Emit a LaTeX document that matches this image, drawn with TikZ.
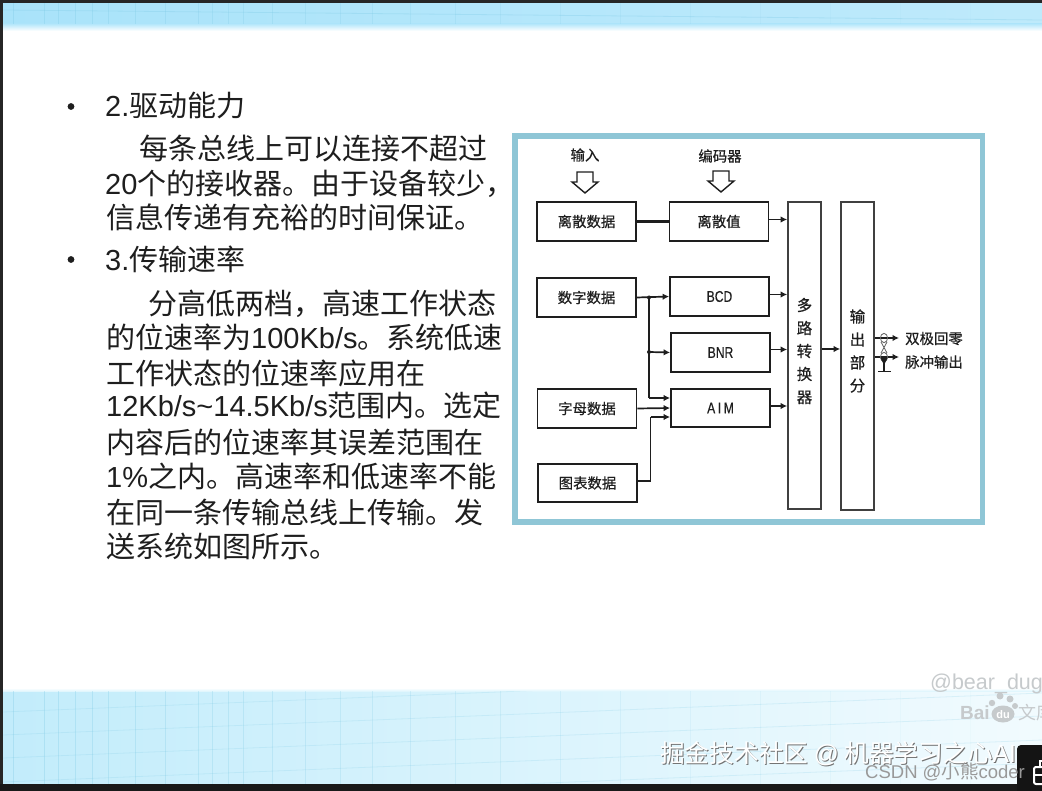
\documentclass[tikz,border=0pt]{standalone}
\usepackage{xcolor}
\usepackage{fontspec}
\usepackage{tikz}
\usetikzlibrary{arrows.meta}
\setmainfont{Liberation Sans}
\newfontfamily\cjk{Noto Sans CJK SC}
\newfontfamily\cjkheavy[FakeBold=0.5]{Noto Sans CJK SC}
\newfontfamily\narrowfont[FakeStretch=0.78,FakeBold=0.4]{Liberation Sans}
\definecolor{framecol}{HTML}{8FC6D6}
\definecolor{inkcol}{HTML}{1E1E1E}
\definecolor{bandtop}{HTML}{A9E3FA}
\definecolor{bandlow}{HTML}{C2ECFB}
\definecolor{gridcol}{HTML}{7CC9E4}
\definecolor{markcol}{HTML}{C6CACC}
\tikzset{
  bodytext/.style={anchor=base west,inner sep=0pt,text=inkcol,font=\fontsize{29}{30}\selectfont\cjk},
  blockbox/.style={draw=inkcol,line width=1.8pt,fill=white,inner sep=0pt,minimum width=99pt,minimum height=38.5pt,font=\fontsize{14.4}{16}\selectfont\cjkheavy,text=inkcol},
  tallbox/.style={draw=inkcol!85,line width=1.7pt,fill=white,inner sep=0pt,minimum width=33pt,minimum height=307.5pt},
  talltext/.style={inner sep=0pt,align=center,text=inkcol,font=\fontsize{15.5}{23}\selectfont\cjkheavy},
  latinbox/.style={font=\fontsize{15.5}{16}\selectfont\narrowfont},
  smalltext/.style={inner sep=0pt,text=inkcol,font=\fontsize{14.4}{16}\selectfont\cjkheavy},
  hollowarrow/.style={draw=inkcol,line width=1.4pt,fill=white,line join=miter},
  link/.style={draw=inkcol,line width=1.7pt},
  linkarrow/.style={link,-{Latex[length=6.5pt,width=6.5pt]}},
  watermark/.style={inner sep=0pt,anchor=base west}
}
\begin{document}
\begin{tikzpicture}[x=1pt,y=-1pt]
  \useasboundingbox (0,0) rectangle (1042,791);
  \clip (0,0) rectangle (1042,791);
  \fill[white] (0,0) rectangle (1042,791);

  % bands of the slide
  \shade[left color=bandtop,right color=bandtop!75!white] (0,3) rectangle (1042,24);
  \shade[top color=bandtop!85!white,bottom color=white] (0,24) rectangle (1042,31);
  \shade[left color=bandlow,right color=bandlow!22!white] (0,691) rectangle (1042,784);
  \shade[top color=white,bottom color=bandlow!50!white] (0,688) rectangle (1042,691);
  \foreach \x in {13,44,58,75,92,108,135,165,198,212,228,243,272,305,340,372,410,455,500,560,620,690,760,830,900,970}{
    \pgfmathsetmacro{\op}{0.32*(1-\x/1100)}
    \draw[gridcol,line width=0.8pt,opacity=\op] (\x,3) -- (\x,24);
    \draw[gridcol,line width=0.8pt,opacity=\op] (\x,691) -- (\x,784);
  }
  \begin{scope}
    \clip (0,691) rectangle (1042,784);
    \foreach \y in {712,735,758,782,805,830}{
      \draw[gridcol,line width=0.8pt,opacity=0.2] (3,\y) -- (1042,\y-42);
    }
  \end{scope}
  \draw[gridcol,line width=0.8pt,opacity=0.3] (3,10) -- (1042,20);

  % dark edges
  \fill[black!85] (0,0) rectangle (1042,3);
  \fill[black!85] (0,0) rectangle (3,791);
  \fill[black!90] (0,784) rectangle (1042,791);

  % left column
  \fill[inkcol] (71,106.5) circle (3.4);
  \fill[inkcol] (71,259.5) circle (3.4);
  \foreach \px/\py/\txt [count=\n] in {
    105/117/{{\rmfamily 2.}驱动能力},
    139/159.5/{每条总线上可以连接不超过},
    105/195/{{\rmfamily 20}个的接收器。由于设备较少，},
    106/228.5/{信息传递有充裕的时间保证。},
    105/271/{{\rmfamily 3.}传输速率},
    148/314.5/{分高低两档，高速工作状态},
    106/348.5/{的位速率为{\rmfamily 100Kb/s}。系统低速},
    106/384.5/{工作状态的位速率应用在},
    106/417/{{\rmfamily 12Kb/s\textasciitilde 14.5Kb/s}范围内。选定},
    106/453.5/{内容后的位速率其误差范围在},
    106/487/{{\rmfamily 1\%}之内。高速率和低速率不能},
    106/523.5/{在同一条传输总线上传输。发},
    106/557.5/{送系统如图所示。}}
    \node[bodytext] (line\n) at (\px,\py) {\txt};

  % picture frame
  \draw[framecol,line width=5.5pt] (514.8,136) rectangle (982.3,522);

  % headings and hollow arrows
  \node[smalltext] (inputlabel) at (585,155) {输入};
  \node[smalltext] (coderlabel) at (720,156) {编码器};
  \draw[hollowarrow] (577,172) -- (593,172) -- (593,182) -- (598,182) -- (585,193) -- (572,182) -- (577,182) -- cycle;
  \draw[hollowarrow] (713,171) -- (729,171) -- (729,181) -- (734,181) -- (721,192) -- (708,181) -- (713,181) -- cycle;

  % blocks
  \node[blockbox] (discdata) at (586.5,221.5) {离散数据};
  \node[blockbox] (discval) at (719,221.5) {离散值};
  \node[blockbox] (digidata) at (586.5,297.5) {数字数据};
  \node[blockbox,latinbox] (bcd) at (719.5,296.5) {BCD};
  \node[blockbox,latinbox] (bnr) at (720.5,352.5) {BNR};
  \node[blockbox,latinbox] (aim) at (720.5,408) {A\,I\,M};
  \node[blockbox] (letterdata) at (587,408.5) {字母数据};
  \node[blockbox] (chartdata) at (587.5,483) {图表数据};
  \node[tallbox] (mux) at (804.5,355.5) {};
  \node[tallbox] (outpart) at (857.5,356) {};
  \node[talltext] (muxtext) at (804.5,351) {多\\路\\转\\换\\器};
  \node[talltext] (outtext) at (857.5,351) {输\\出\\部\\分};

  % connectors
  \coordinate (busa) at (649,297.5);
  \coordinate (busb) at (649,352);
  \coordinate (busc) at (649,398);
  \coordinate (chartturn) at (650.5,481);
  \coordinate (chartup) at (650.5,417);
  \draw[link,line width=2.2pt] (discdata.east) -- (discval.west);
  \draw[linkarrow] (digidata.east) -- (bcd.west);
  \draw[link] (busa) -- (busc);
  \fill[inkcol] (busa) circle (2);
  \fill[inkcol] (busb) circle (2);
  \draw[linkarrow] (busb) -- (bnr.west);
  \draw[linkarrow] (busc) -- (busc -| aim.west);
  \draw[linkarrow] (letterdata.east) -- (aim.west);
  \draw[link] ([yshift=2pt]chartdata.east) -- (chartturn) -- (chartup);
  \draw[linkarrow] (chartup) -- (chartup -| aim.west);
  \draw[linkarrow] ([yshift=2pt]discval.east) -- ([yshift=2pt]discval.east -| mux.west);
  \draw[linkarrow] ([yshift=2pt]bcd.east) -- ([yshift=2pt]bcd.east -| mux.west);
  \draw[linkarrow] ([yshift=3pt]bnr.east) -- ([yshift=3pt]bnr.east -| mux.west);
  \draw[linkarrow] ([yshift=2pt]aim.east) -- ([yshift=2pt]aim.east -| mux.west);
  \draw[linkarrow] ([yshift=6.5pt]mux.east) -- ([yshift=6.5pt]mux.east -| outpart.west);

  % output stage
  \coordinate (outa) at (899,338);
  \coordinate (outb) at (899,357);
  \draw[linkarrow] (outa -| outpart.east) -- (outa);
  \draw[linkarrow] (outb -| outpart.east) -- (outb);
  \draw[inkcol!70,line width=0.8pt] (884,338) ellipse (3.6 and 4.6);
  \draw[inkcol!70,line width=0.8pt] (884,357) ellipse (3.6 and 4.6);
  \draw[inkcol!70,line width=0.8pt] (881,342) -- (887,353) (887,342) -- (881,353);
  \fill[inkcol] (880.5,358) -- (887.5,358) -- (884,365) -- cycle;
  \draw[inkcol,line width=1.4pt] (884,362) -- (884,371);
  \draw[inkcol,line width=1.8pt] (878,371.5) -- (891,371.5);
  \node[smalltext,anchor=west] (bipolar) at (905,338.5) {双极回零};
  \node[smalltext,anchor=west] (pulse) at (905,362) {脉冲输出};

  % marks over the slide
  \node[watermark,text=markcol,font=\fontsize{21.5}{24}\selectfont] (userid) at (930,689) {@bear\_dug};
  \node[watermark,text=markcol,font=\fontsize{19}{20}\selectfont\bfseries] (baidu) at (960,719) {Bai};
  \fill[markcol] (992,703) circle (3.2) (1000,696) circle (3.5) (1010,699) circle (3.5) (1015,706) circle (3);
  \fill[markcol] (1003,714) ellipse (11.5 and 8.5);
  \node[inner sep=0pt,text=white,font=\fontsize{11}{12}\selectfont\bfseries] (dutext) at (1003,714.5) {du};
  \node[watermark,text=markcol,font=\fontsize{18}{20}\selectfont\cjk] (wenku) at (1018,719) {文库};
  \node[watermark,text=black!55,font=\fontsize{24.7}{26}\selectfont\cjk] (siteshade) at (661,763.5) {掘金技术社区 {\rmfamily @} 机器学习之心{\rmfamily AI}};
  \node[watermark,text=white,font=\fontsize{24.7}{26}\selectfont\cjk] (site) at (660,762.5) {掘金技术社区 {\rmfamily @} 机器学习之心{\rmfamily AI}};
  \fill[black!92,rounded corners=4pt] (1017,745) rectangle (1060,800);
  \draw[white,line width=2pt,rounded corners=2pt] (1034,767) rectangle (1060,784);
  \draw[white,line width=2pt] (1034,775) -- (1050,775) (1040,767) -- (1040,761) -- (1050,761);
  \node[watermark,text=black!40,font=\fontsize{18.5}{20}\selectfont] (csdn) at (865,778) {CSDN @{\cjk 小熊}coder};
\end{tikzpicture}
\end{document}
